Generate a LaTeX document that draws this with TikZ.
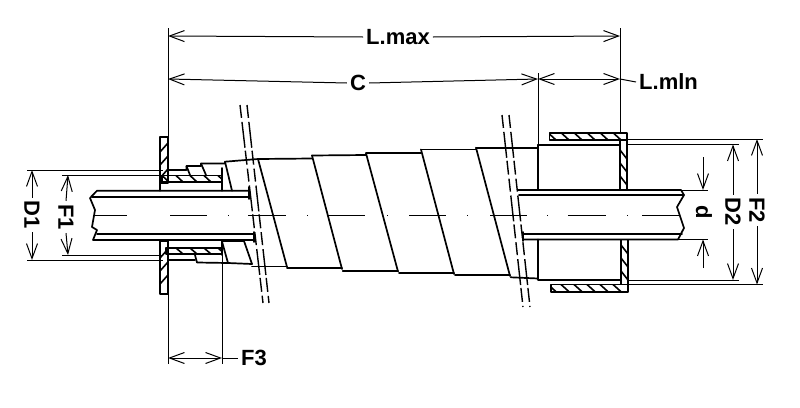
\documentclass[tikz,border=0pt]{standalone}
\usepackage{fontspec}
\setmainfont{Liberation Sans}
\usetikzlibrary{arrows.meta}
\tikzset{
  x=1pt,y=-1pt,
  main/.style={line width=1.7pt,line cap=round,line join=round,black},
  thin line/.style={line width=1pt,black},
  dim/.style={line width=1pt,black,-{Straight Barb[length=15pt,width=11pt,line width=1pt]}},
  lab/.style={font=\bfseries\fontsize{22}{22}\selectfont,inner sep=3pt,fill=white},
  center line/.style={line width=1pt,black},
  break line/.style={line width=1.4pt,black,dash pattern=on 13pt off 4pt on 26pt off 3pt on 14pt off 4pt},
  hatchline/.style={line width=1.6pt,black}
}
% x0 y0 x1 y1 : hatched box with strokes across its height; #5 list of start x, #6 skew
\newcommand{\hatchbox}[6]{%
  \begin{scope}
    \clip (#1,#2) rectangle (#3,#4);
    \foreach \hx in {#5} {\draw[hatchline] (\hx,#2) -- ++(#6,#4-#2);}
  \end{scope}
  \draw[main] (#1,#2) rectangle (#3,#4);
}
% x0 y0 x1 y1 : hatched box with strokes across its width; #5 list of start y, #6 skew
\newcommand{\vhatchbox}[6]{%
  \begin{scope}
    \clip (#1,#2) rectangle (#3,#4);
    \foreach \hy in {#5} {\draw[hatchline] (#1,\hy) -- (#3,\hy+#6);}
  \end{scope}
  \draw[main] (#1,#2) rectangle (#3,#4);
}
\begin{document}
\begin{tikzpicture}
\useasboundingbox (0,0) rectangle (800,407);
\fill[white] (0,0) rectangle (800,407);

% dimension anchors
\coordinate (lmaxL) at (168,36);
\coordinate (lmaxR) at (620,36);
\coordinate (cL) at (168,79);
\coordinate (cR) at (538,79);
\coordinate (lminR) at (620,79);
\coordinate (f3L) at (168,358);
\coordinate (f3R) at (222,358);
\coordinate (d1T) at (32,170);
\coordinate (d1B) at (32,260);
\coordinate (f1T) at (68,175);
\coordinate (f1B) at (68,255);
\coordinate (dT) at (703,190);
\coordinate (dB) at (703,239.5);
\coordinate (d2T) at (733,144.5);
\coordinate (d2B) at (733,280);
\coordinate (f2T) at (757,139);
\coordinate (f2B) at (757,284.5);

% labels
\node[lab] (lmax) at (398,37) {L.max};
\node[lab] (c) at (358,83) {C};
\node[lab,anchor=west] (lmin) at (636,82) {L.mln};
\node[lab,anchor=west] (f3) at (238,358) {F3};
\node[lab,rotate=-90] (d1) at (32,215) {D1};
\node[lab,rotate=-90] (f1) at (66,217) {F1};
\node[lab,rotate=-90] (d) at (704,212) {d};
\node[lab,rotate=-90] (d2) at (733,212) {D2};
\node[lab,rotate=-90] (f2) at (757,210) {F2};

% extension lines
\draw[thin line] (168,28) -- (168,137);
\draw[thin line] (620,28) -- (620,133);
\draw[thin line] (538,73) -- (538,146);
\draw[thin line] (168,294) -- (168,364);
\draw[thin line] (222,255) -- (222,364);
\draw[thin line] (27,170) -- (163,170);
\draw[thin line] (27,260) -- (163,260);
\draw[thin line] (62,175) -- (163,175);
\draw[thin line] (62,255) -- (163,255);
\draw[thin line] (627,139) -- (763,139);
\draw[thin line] (627,144.5) -- (739,144.5);
\draw[thin line] (627,280) -- (739,280);
\draw[thin line] (627,284.5) -- (763,284.5);
\draw[thin line] (681,190) -- (708,190);
\draw[thin line] (678,239.5) -- (708,239.5);

% dimension arrows
\draw[dim] (lmax.west) -- (lmaxL);
\draw[dim] (lmax.east) -- (lmaxR);
\draw[dim] (c.west) -- (cL);
\draw[dim] (c.east) -- (cR);
\draw[dim] (583,79) -- (cR);
\draw[dim] (583,79) -- (lminR);
\draw[thin line] (lminR) -- (lmin.west);
\draw[dim] (195,358) -- (f3L);
\draw[dim] (195,358) -- (f3R);
\draw[thin line] (f3R) -- (f3.west);
\draw[dim] (d1.west) -- (d1T);
\draw[dim] (d1.east) -- (d1B);
\draw[dim] (f1.west) -- (f1T);
\draw[dim] (f1.east) -- (f1B);
\draw[dim] (703,157) -- (dT);
\draw[dim] (703,268) -- (dB);
\draw[dim] (d2.west) -- (d2T);
\draw[dim] (d2.east) -- (d2B);
\draw[dim] (f2.west) -- (f2T);
\draw[dim] (f2.east) -- (f2B);

% centre line
\draw[center line]
  (95,215) -- (127,215) (170,215) -- (207,215) (228,215) -- (229,215)
  (248,215) -- (286,215) (307,215) -- (308,215) (328,215) -- (365,215)
  (387,215) -- (388,215) (409,215) -- (446,215) (467,215) -- (468,215)
  (490,215) -- (527,215) (547,215) -- (548,215) (568,215) -- (606,215)
  (627,215) -- (628,215) (642,215) -- (680,215);

% left pipe
\draw[main] (249,190.7) -- (97,190.7) -- (90,198) -- (95,210) -- (92,227) -- (97,230) -- (93,240) -- (254,240);
\draw[main] (92,196.7) -- (249,196.7);
\draw[main] (97,234) -- (254,234);
\draw[main] (249,187) -- (249,199);
\draw[main] (254,232) -- (254,242);

% right pipe
\draw[main] (518,190) -- (681,190) -- (684,195) -- (677,207) -- (684,228) -- (678,239.5) -- (523,239.5);
\draw[main] (519,195) -- (684,195);
\draw[main] (523,234) -- (682,234);
\draw[main] (523,232) -- (523,241);

% left flange and sleeve
\vhatchbox{160}{137}{168}{183}{152,165,178}{-9}
\vhatchbox{160}{241}{168}{294}{258,271,284}{-9}
\draw[main] (160,183) -- (160,190.7);
\hatchbox{162}{175.5}{222}{182}{162,176,190,204,218}{7}
\hatchbox{166}{248}{222}{254}{162,176,190,204,218}{7}
\draw[main] (222,168) -- (222,190.7);
\draw[main] (222,241) -- (222,255);

% left stepped wraps
\draw[main] (168,170) -- (186.5,170) -- (186.5,166) -- (201,166) -- (201,163.5) -- (225,163.5) -- (225,161.7) -- (258,159);
\draw[main] (186.5,166) -- (190,175);
\draw[main] (201,163.5) -- (206,175);
\draw[main] (225,161.7) -- (232,190.7);
\draw[main] (222,241) -- (244,241);
\draw[main] (222,241.5) -- (228,263);
\draw[main] (244,241) -- (252,264);
\draw[main] (168,260) -- (195,260);
\draw[main] (195,255) -- (197,262.5) -- (228,263) -- (252,264);
\draw[main] (252,266.5) -- (287,266.5);

% spiral wrap
\draw[main] (258,159) -- (287,267);
\draw[main] (258,159) -- (312,158.5);
\draw[main] (312,155.5) -- (366,155);
\draw[main] (366,153.3) -- (421,153.3);
\draw[main] (421,149.5) -- (476,149.5);
\draw[main] (476,147.7) -- (538,147.7);
\draw[main] (312,155.5) -- (342,269);
\draw[main] (366,153.3) -- (398,271.5);
\draw[main] (421,149.5) -- (454,274);
\draw[main] (476,147.7) -- (510,276);
\draw[main] (287,268.3) -- (342,268.3);
\draw[main] (342.7,270.7) -- (398,270.7);
\draw[main] (399,272.7) -- (454,272.7);
\draw[main] (455,275) -- (510,275);
\draw[main] (510.7,277.3) -- (538,278.5);

% right sleeve
\draw[main] (538,147.7) -- (538,145) -- (620,145);
\draw[main] (538,145) -- (538,190);
\draw[main] (538,239.5) -- (538,280) -- (620,280);
\hatchbox{549.5}{132.7}{627}{140}{548,561,574,587,600,613}{8}
\hatchbox{551}{284.5}{628}{291.7}{548,561,574,587,600,613}{8}
\vhatchbox{620}{140}{627}{190}{150,163,176}{9}
\vhatchbox{621}{239.5}{628}{284.5}{245,258,271}{9}

% break lines
\draw[break line] (240,105) -- (263,303);
\draw[break line] (247,105) -- (269,303);
\draw[break line] (502,115) -- (523,307);
\draw[break line] (509,115) -- (530,307);
\end{tikzpicture}
\end{document}
